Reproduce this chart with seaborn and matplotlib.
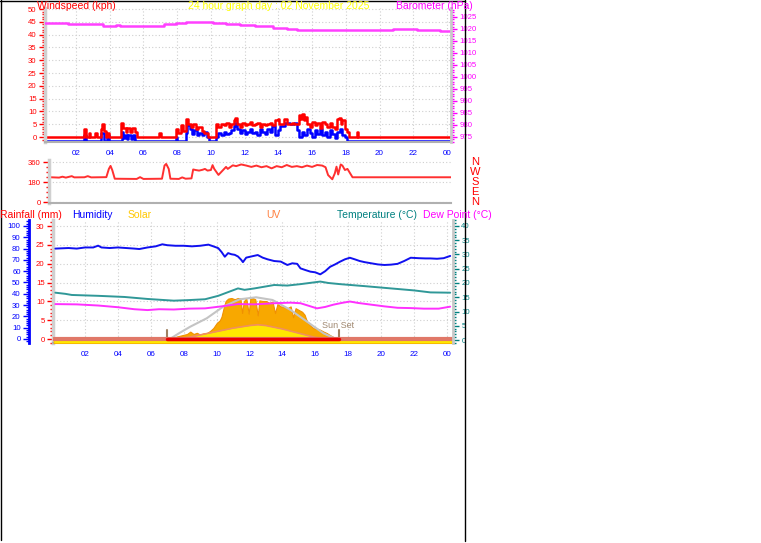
import matplotlib
matplotlib.use("Agg")
import matplotlib.pyplot as plt
import matplotlib.ticker as mticker
from matplotlib.lines import Line2D
from matplotlib.transforms import offset_copy
import seaborn as sns

# ---- values (x = hour of day) ----
hour_ticks = [2, 4, 6, 8, 10, 12, 14, 16, 18, 20, 22, 24]
hour_labels = ["02", "04", "06", "08", "10", "12", "14", "16", "18", "20", "22", "00"]

gust_h = [0.1, 2.45, 2.6, 2.75, 2.85, 3.15, 3.25, 3.5, 3.55, 3.65, 3.75, 3.85, 3.95,
          4.65, 4.8, 4.95, 5.05, 5.2, 5.3, 5.5, 5.6, 6.95, 7.05,
          7.9, 8.05, 8.2, 8.35, 8.5, 8.55, 8.65, 8.8, 8.95, 9.1, 9.25, 9.45, 9.6, 9.75, 9.85,
          10.3, 10.45, 10.6, 10.75, 10.9, 11.05, 11.2, 11.35, 11.45, 11.55, 11.7, 11.85,
          12.0, 12.15, 12.3, 12.45, 12.6, 12.75, 12.9, 13.05, 13.2, 13.35, 13.5, 13.65,
          13.8, 13.95, 14.05, 14.2, 14.35, 14.5, 14.65, 14.8, 14.95, 15.1, 15.2, 15.3,
          15.4, 15.5, 15.6, 15.7, 15.85, 16.0, 16.15, 16.3, 16.45, 16.6, 16.75, 16.9,
          17.05, 17.2, 17.35, 17.5, 17.6, 17.7, 17.8, 17.95, 18.1, 18.2, 18.65, 18.75, 24.3]
gust_kph = [0, 3.2, 0, 1.6, 0, 1.6, 0, 3.0, 5.0, 2.5, 0, 1.6, 0,
            5.5, 3.5, 2.0, 3.5, 2.0, 3.5, 2.0, 0, 1.5, 0,
            3.0, 1.5, 4.5, 2.5, 5.5, 7.0, 5.0, 4.0, 5.0, 3.0, 4.0, 2.5, 1.5, 1.5, 0,
            5.0, 4.0, 5.0, 4.5, 5.5, 4.0, 5.0, 6.5, 7.5, 5.0, 4.0, 5.5,
            4.5, 5.0, 6.0, 4.5, 5.0, 5.5, 4.0, 5.0, 4.5, 5.0, 5.5, 4.5,
            6.5, 7.0, 5.0, 5.0, 7.0, 5.0, 5.0, 5.5, 5.0, 5.0, 8.5, 7.0,
            9.0, 6.5, 8.0, 5.0, 4.0, 6.0, 4.5, 5.5, 3.5, 6.0, 5.0, 4.0,
            5.5, 4.0, 3.0, 7.0, 7.5, 5.0, 6.5, 3.0, 2.0, 0, 1.8, 0, 0]

avg_h = [0.1, 2.5, 2.6, 3.5, 3.65, 3.85, 3.95, 4.7, 4.8, 4.9, 5.0, 5.1, 5.25, 5.35, 5.5,
         7.9, 8.0, 8.5, 8.6, 8.75, 8.9, 9.0, 9.15, 9.3, 9.5, 9.6, 9.75, 9.9,
         10.3, 10.45, 10.6, 10.75, 10.9, 11.05, 11.2, 11.35, 11.45, 11.55, 11.7, 11.85,
         12.0, 12.15, 12.3, 12.45, 12.6, 12.75, 12.9, 13.05, 13.2, 13.35, 13.5, 13.65,
         13.8, 13.95, 14.1, 14.4, 14.7, 14.9, 15.1, 15.25, 15.4, 15.55, 15.7, 15.85,
         16.0, 16.15, 16.3, 16.45, 16.6, 16.75, 16.9, 17.05, 17.2, 17.35, 17.5, 17.65,
         17.8, 17.95, 18.1, 24.3]
avg_kph = [0, 2.2, 0, 3.0, 0, 2.2, 0, 3.4, 1.0, 2.0, 0.5, 2.0, 0.5, 2.0, 0,
           1.2, 0, 3.0, 6.0, 4.5, 2.5, 4.0, 2.0, 3.0, 2.0, 3.2, 1.5, 0,
           1.5, 3.0, 2.0, 3.5, 2.5, 3.0, 4.0, 5.5, 7.0, 4.5, 3.0, 4.0,
           2.5, 3.5, 4.5, 3.0, 3.5, 2.0, 4.5, 3.5, 2.5, 4.5, 3.5, 5.5,
           2.0, 4.0, 5.5, 7.0, 6.5, 7.0, 4.0, 1.5, 3.5, 2.0, 4.5, 3.0,
           1.5, 4.0, 2.5, 4.5, 2.0, 3.5, 1.5, 4.0, 2.5, 1.0, 3.5, 4.5,
           2.0, 1.5, 0, 0]

baro_h = [0.1, 1.5, 3.6, 4.4, 4.6, 7.2, 7.9, 8.5, 10.1, 10.9, 11.7, 12.6,
          13.7, 14.5, 15.1, 20.8, 22.2, 23.6, 24.3]
baro_hpa = [1022.5, 1022.0, 1021.3, 1021.6, 1021.3, 1022.0, 1022.5, 1022.9, 1022.5,
            1022.0, 1021.6, 1021.2, 1020.5, 1020.0, 1019.6, 1020.0, 1019.6, 1019.2, 1019.2]

wdir_h = [0.5, 1.0, 1.2, 1.4, 1.75, 1.9, 2.5, 2.7, 2.9, 3.8, 3.95, 4.05, 4.15, 4.3,
          5.6, 5.8, 6.0, 7.1, 7.25, 7.35, 7.5, 7.6, 8.1, 8.3, 8.5, 8.85, 8.95, 9.1,
          9.3, 9.5, 9.65, 9.8, 10.0, 10.1, 10.2, 10.45, 10.6, 10.9, 11.0, 11.3, 11.5,
          11.8, 12.1, 12.4, 12.7, 13.0, 13.3, 13.6, 13.9, 14.2, 14.5, 14.8, 15.1, 15.4,
          15.7, 16.0, 16.3, 16.6, 16.8, 16.95, 17.2, 17.35, 17.45, 17.55, 17.7, 17.8,
          17.95, 18.1, 18.4, 24.3]
wdir_deg = [225, 222, 230, 222, 235, 224, 225, 235, 224, 226, 300, 327, 290, 212,
            210, 226, 210, 212, 330, 345, 300, 212, 210, 224, 212, 215, 295, 290,
            285, 292, 300, 285, 290, 334, 300, 246, 270, 318, 300, 332, 325,
            340, 330, 318, 330, 315, 325, 305, 325, 315, 335, 318, 325, 315,
            330, 318, 335, 330, 315, 245, 207, 260, 320, 250, 340, 330,
            290, 300, 225, 225]

hum_h = [0.2, 1.0, 1.5, 2.0, 2.5, 2.8, 3.0, 3.5, 4.0, 4.5, 5.0, 5.3, 5.8, 6.3, 6.7,
         7.0, 7.5, 8.0, 8.5, 9.0, 9.5, 9.8, 10.1, 10.3, 10.5, 10.7, 10.9, 11.1, 11.3,
         11.5, 11.6, 11.8, 12.1, 12.5, 12.8, 13.1, 13.5, 13.9, 14.3, 14.6, 14.9, 15.1,
         15.4, 15.7, 16.0, 16.3, 16.6, 16.9, 17.2, 17.5, 17.8, 18.1, 18.4, 18.7, 19.0,
         19.4, 19.8, 20.2, 20.6, 21.0, 21.4, 21.8, 22.3, 22.7, 23.0, 23.4, 23.8, 24.2]
hum_pct = [80, 80.5, 80, 81, 81, 82.6, 81, 80.5, 81, 80.5, 80, 79.6, 81, 82, 83.8,
           83, 82.5, 82.5, 82, 82.5, 83.5, 82, 80.4, 77, 72.8, 76, 75, 74.5, 73,
           70, 68, 72, 73, 74.3, 72, 70.5, 69, 68.5, 65.5, 67, 66.5, 62.5,
           61, 59.6, 59, 57.2, 60, 63.9, 66, 68.4, 70.5, 71.9, 70.5, 69, 68,
           67, 66, 65.5, 65.8, 66.5, 69, 71.9, 71.5, 71.3, 71.3, 71, 71.5, 73.5]

temp_h = [0.2, 0.8, 1.2, 2.8, 4.4, 5.8, 7.4, 8.3, 9.3, 10.1, 10.7, 11.3, 11.7, 12.3,
          13.5, 14.3, 15.1, 16.3, 16.8, 17.5, 19.0, 20.6, 22.0, 23.0, 24.2]
temp_c = [16.6, 16.2, 15.8, 15.5, 15.1, 14.4, 13.8, 14.0, 14.3, 15.5, 16.8, 18.1, 17.6,
          18.1, 19.3, 19.1, 19.6, 20.5, 20.0, 19.6, 18.9, 18.1, 17.4, 16.7, 16.6]

dew_h = [0.2, 1.5, 2.8, 4.0, 5.0, 5.8, 6.5, 7.4, 8.3, 9.3, 10.3, 11.3, 12.3, 13.5,
         14.5, 15.1, 15.6, 16.1, 16.6, 17.1, 17.6, 18.1, 18.6, 19.4, 20.2, 21.0, 21.8,
         22.6, 23.5, 24.2]
dew_c = [12.6, 12.5, 12.1, 11.5, 10.8, 10.5, 10.8, 10.7, 11.0, 11.1, 11.8, 12.6, 12.5,
         12.9, 13.1, 12.9, 12.0, 11.1, 11.6, 12.4, 13.0, 13.5, 13.0, 12.4, 11.8, 11.3,
         11.2, 11.0, 11.0, 11.7]

rain_h = [0.1, 24.3]
rain_mm = [0, 0]

solar_h = [0.1, 7.0, 7.3, 7.6, 7.9, 8.2, 8.4, 8.6, 8.8, 9.0, 9.2, 9.4, 9.6, 9.8, 10.0,
           10.2, 10.3, 10.45, 10.55, 10.7, 10.9, 11.1, 11.3, 11.45, 11.55, 11.65, 11.8,
           11.95, 12.05, 12.2, 12.35, 12.5, 12.6, 12.8, 13.0, 13.2, 13.4, 13.55, 13.7,
           13.9, 14.1, 14.3, 14.5, 14.65, 14.8, 15.0, 15.2, 15.35, 15.5, 15.7, 15.9,
           16.1, 16.3, 16.5, 16.7, 16.9, 17.1, 17.3, 17.44, 24.3]
solar_wm2 = [0, 0, 30, 60, 80, 100, 140, 100, 120, 90, 110, 115, 150, 200, 280,
             330, 390, 560, 650, 690, 700, 680, 700, 690, 450, 640, 700,
             440, 690, 700, 680, 410, 660, 650, 650, 620, 640, 450, 600,
             560, 550, 530, 560, 380, 530, 500, 470, 420, 300, 240, 195,
             190, 170, 140, 115, 80, 50, 25, 0, 0]

solar_max_h = [7.06, 7.7, 8.4, 9.4, 10.4, 11.4, 12.4, 13.4, 14.5, 15.5, 16.5, 17.3, 17.45]
solar_max_wm2 = [0, 110, 222, 362, 555, 678, 712, 667, 500, 305, 111, 12, 0]

uv_h = [0.1, 7.0, 8.0, 9.0, 10.0, 11.0, 12.0, 12.5, 13.0, 14.0, 15.0, 16.0, 17.0, 17.4, 24.3]
uv_index = [0, 0, 0.2, 0.6, 1.0, 1.4, 1.7, 1.8, 1.7, 1.3, 0.8, 0.3, 0.05, 0, 0]

sunrise, sunset = 7.0, 17.44
compass = ["N", "W", "S", "E", "N"]
compass_deg = [360, 270, 180, 90, 0]

# ---- figure ----
W, H = 761, 543
sns.set_style("white")
plt.rcParams["font.family"] = ["Liberation Sans", "DejaVu Sans"]
fig = plt.figure(figsize=(W / 100, H / 100), dpi=100, facecolor="white")


def px_box(l, t, r, b):
    return [l / W, 1 - b / H, (r - l) / W, (b - t) / H]


def ftext(x, y, s, color, **kw):
    fig.text(x / W, 1 - y / H, s, color=color, fontsize=7.5, va="baseline", **kw)


def time_axis(ax, lo, hi, labels=True):
    ax.set_xlim(lo, hi)
    ax.set_xticks(hour_ticks)
    ax.set_xticklabels(hour_labels)
    ax.xaxis.set_minor_locator(mticker.MultipleLocator(0.5))
    ax.tick_params(axis="x", which="both", direction="out", color="#b8b8b8",
                   labelcolor="#0000ff", labelsize=5.8, pad=2, labelbottom=labels)
    ax.tick_params(axis="x", which="major", length=4, width=1)
    ax.tick_params(axis="x", which="minor", length=2, width=0.8)
    ax.set_xlabel("")
    ax.spines["bottom"].set_color("#b0b0b0")
    ax.spines["bottom"].set_linewidth(1.5)
    ax.spines["top"].set_visible(False)


def value_axis(ax, side, lo, hi, major, minor, color, spine_color="#d0d0d0", spine_w=2.5):
    ax.set_ylim(lo, hi)
    ax.yaxis.set_major_locator(mticker.MultipleLocator(major))
    ax.yaxis.set_minor_locator(mticker.MultipleLocator(minor))
    if side == "left":
        ax.yaxis.tick_left()
    else:
        ax.yaxis.tick_right()
    ax.tick_params(axis="y", which="both", direction="out", color=color,
                   labelcolor=color, labelsize=5.6, pad=2)
    ax.tick_params(axis="y", which="major", length=4, width=1)
    ax.tick_params(axis="y", which="minor", length=2.5, width=1)
    ax.spines[side].set_visible(True)
    ax.spines[side].set_color(spine_color)
    ax.spines[side].set_linewidth(spine_w)
    other = "right" if side == "left" else "left"
    ax.spines[other].set_visible(False)
    ax.set_ylabel("")


def dotted_grid(ax, axis="both"):
    ax.grid(True, axis=axis, which="major", color="#cfcfcf",
            linestyle=(0, (1, 2)), linewidth=0.8)
    ax.set_axisbelow(True)


# ---- panel 1 : wind speed + barometer ----
ax1 = fig.add_axes(px_box(45, 8, 451, 142))
time_axis(ax1, 0.16, 24.24)
value_axis(ax1, "left", -1.95, 50.4, 5, 1, "#ff0000")
dotted_grid(ax1)
ax1.spines["top"].set_visible(False)

avg_tr = offset_copy(ax1.transData, fig=fig, x=0, y=-3.5, units="dots")
sns.lineplot(x=avg_h, y=avg_kph, ax=ax1, color="#0000ff", linewidth=1.8,
             drawstyle="steps-post", transform=avg_tr)
sns.lineplot(x=gust_h, y=gust_kph, ax=ax1, color="#ff0000", linewidth=1.8,
             drawstyle="steps-post")
ax1.set_xlim(0.16, 24.24)
ax1.set_ylim(-1.95, 50.4)

ax1b = ax1.twinx()
value_axis(ax1b, "right", 972.9, 1028.75, 5, 1, "#ff00ff", spine_color="#c8c8c8", spine_w=2)
ax1b.spines["top"].set_visible(False)
ax1b.spines["bottom"].set_visible(False)
sns.lineplot(x=baro_h, y=baro_hpa, ax=ax1b, color="#ff40ff", linewidth=1.8,
             drawstyle="steps-post")
ax1b.set_ylim(972.9, 1028.75)
ax1b.set_ylabel("")

# ---- panel 2 : wind direction ----
ax2 = fig.add_axes(px_box(49, 160, 451, 203))
time_axis(ax2, 0.40, 24.24, labels=False)
value_axis(ax2, "left", -6, 380, 180, 45, "#ff0000")
ax2.grid(True, axis="y", which="major", color="#cfcfcf", linestyle=(0, (1, 2)), linewidth=0.8)
ax2.set_axisbelow(True)
sns.lineplot(x=wdir_h, y=wdir_deg, ax=ax2, color="#ff3030", linewidth=1.4)
ax2.set_xlim(0.40, 24.24)
ax2.set_ylim(-6, 380)
for letter, deg in zip(compass, compass_deg):
    ax2.text(1.06, deg, letter, transform=ax2.get_yaxis_transform(), color="#ff0000",
             fontsize=8, ha="center", va="center", clip_on=False)

# ---- panel 3 : rain / humidity / solar / uv / temperature / dew point ----
x3 = (0.055, 24.37)
ax3 = fig.add_axes(px_box(53, 220, 453, 343))
time_axis(ax3, *x3)
value_axis(ax3, "left", -1.06, 31.6, 5, 1, "#ff0000")
dotted_grid(ax3)

ax_s = ax3.twinx()
ax_s.set_ylim(-50, 2000)
ax_s.axis("off")
ax_s.fill_between(solar_h, ax_s.get_ylim()[0], solar_wm2, facecolor="#f8a800",
                  edgecolor="#f09000", linewidth=0.8)
sns.lineplot(x=solar_max_h, y=solar_max_wm2, ax=ax_s, color="#c4c4c4", linewidth=1.5)
for t in (sunrise, sunset):
    ax_s.axvline(t, 0.0, 0.105, color="#a08060", linewidth=1.5)
ax_s.text(sunset - 0.05, 0.14, "Sun Set", transform=ax_s.get_xaxis_transform(),
          color="#a08870", fontsize=6.5, ha="center", va="center")

ax_u = ax3.twinx()
ax_u.set_ylim(-0.35, 14.1)
ax_u.axis("off")
ax_u.fill_between(uv_h, ax_u.get_ylim()[0], uv_index, facecolor="#ffe800", linewidth=0)
sns.lineplot(x=uv_h, y=uv_index, ax=ax_u, color="#f09060", linewidth=1.2)

ax_r = ax3.twinx()
ax_r.set_ylim(ax3.get_ylim())
ax_r.axis("off")
sns.lineplot(x=rain_h, y=rain_mm, ax=ax_r, color="#e07868", linewidth=3)
sns.lineplot(x=[sunrise, sunset], y=[0, 0], ax=ax_r, color="#e80000", linewidth=2.5)

ax_h = ax3.twinx()
value_axis(ax_h, "left", -3.54, 105.3, 10, 2, "#0000ff", spine_color="#0000ff", spine_w=2)
ax_h.spines["left"].set_position(("outward", 24 * 0.72))
ax_h.spines["top"].set_visible(False)
ax_h.spines["bottom"].set_visible(False)
sns.lineplot(x=hum_h, y=hum_pct, ax=ax_h, color="#1010f0", linewidth=1.4)

ax_t = ax3.twinx()
value_axis(ax_t, "right", -1.05, 42.1, 5, 1, "#008080", spine_color="#c8c8c8", spine_w=2)
ax_t.spines["top"].set_visible(False)
ax_t.spines["bottom"].set_visible(False)
sns.lineplot(x=temp_h, y=temp_c, ax=ax_t, color="#309898", linewidth=1.4)
sns.lineplot(x=dew_h, y=dew_c, ax=ax_t, color="#ff30ff", linewidth=1.4)

for a in (ax3, ax_s, ax_u, ax_r, ax_h, ax_t):
    a.set_xlim(*x3)
ax_s.set_ylim(-50, 2000)
ax_u.set_ylim(-0.35, 14.1)
ax_r.set_ylim(-1.06, 31.6)
ax_h.set_ylim(-3.54, 105.3)
ax_t.set_ylim(-1.05, 42.1)

# ---- header texts ----
ftext(37, 9, "Windspeed (kph)", "#ff0000")
ftext(279, 9, "24 hour graph day : 02 November 2025", "#ffff00", ha="center")
ftext(396, 9, "Barometer (hPa)", "#ff00ff")
ftext(0.5, 218, "Rainfall (mm)", "#ff0000")
ftext(72, 218, "Humidity", "#0000ff")
ftext(128, 218, "Solar", "#ffc800")
ftext(266, 218, "UV", "#ff8040")
ftext(337, 218, "Temperature (°C)", "#008080")
ftext(423, 218, "Dew Point (°C)", "#ff00ff")

# ---- outer frame ----
for xs, ys in (([0.5, 0.5], [0, 540]), ([0, 465], [0.5, 0.5]), ([465, 465], [0, 541])):
    fig.add_artist(Line2D([x / W for x in xs], [1 - y / H for y in ys],
                          color="black", linewidth=1))

fig.savefig("out.png", dpi=100, facecolor="white")
